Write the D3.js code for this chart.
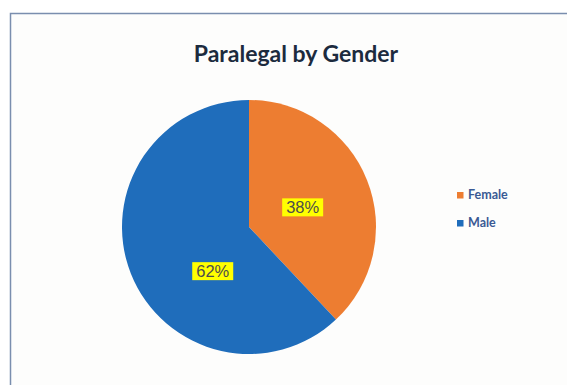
<!DOCTYPE html>
<html><head><meta charset="utf-8">
<script src="https://cdn.jsdelivr.net/npm/d3@7"></script>
<style>html,body{margin:0;padding:0;background:#fff;}svg{display:block;}</style>
</head><body>
<script>
const categories = ["Female", "Male"];
const values = [38, 62];
const labels = ["38%", "62%"];
const colors = ["#ED7D31", "#1F6DBB"];
const title = "Paralegal by Gender";

const W = 567, H = 385;
const svg = d3.select("body").append("svg").attr("width", W).attr("height", H);
svg.append("rect").attr("x", 0).attr("y", 0).attr("width", W).attr("height", H).attr("fill", "#ffffff");
svg.append("rect").attr("x", 10.5).attr("y", 13.5).attr("width", W + 10).attr("height", H + 10)
  .attr("fill", "#fdfdfc").attr("stroke", "#7a8eae").attr("stroke-width", 1.5);

svg.append("text").attr("x", 296).attr("y", 62).attr("text-anchor", "middle")
  .attr("font-family", "Lato, 'Open Sans', sans-serif").attr("font-weight", "bold")
  .attr("font-size", 23).attr("fill", "#1c2b3e").text(title);

const cx = 249, cy = 227, r = 127;
const pie = d3.pie().sort(null).value(d => d)(values);
const arc = d3.arc().innerRadius(0).outerRadius(r);
const g = svg.append("g").attr("transform", `translate(${cx},${cy})`);
g.selectAll("path").data(pie).join("path").attr("d", arc).attr("fill", (d, i) => colors[i]);

// best-fit style label placement: distance from centre and angular nudge (degrees)
const labelDist = 0.45 * r;
const angleNudge = [1.5, -29];
pie.forEach((d, i) => {
  const a = (d.startAngle + d.endAngle) / 2 + angleNudge[i] * Math.PI / 180;
  const x = labelDist * Math.sin(a), y = -labelDist * Math.cos(a);
  const lg = g.append("g").attr("transform", `translate(${x},${y})`);
  lg.append("rect").attr("x", -20.5).attr("y", -9).attr("width", 41).attr("height", 18).attr("fill", "#ffff00");
  lg.append("text").attr("text-anchor", "middle").attr("dy", "0.36em")
    .attr("font-family", "'Liberation Sans Narrow', 'Liberation Sans', Arial, sans-serif").attr("font-size", 17)
    .attr("textLength", 33).attr("lengthAdjust", "spacingAndGlyphs")
    .attr("fill", "#4d4d4d").text(labels[i]);
});

const leg = svg.append("g");
categories.forEach((c, i) => {
  const y = 195 + i * 28;
  leg.append("rect").attr("x", 457).attr("y", y - 3).attr("width", 6.5).attr("height", 6.5).attr("fill", colors[i]);
  leg.append("text").attr("x", 468).attr("y", y).attr("dy", "0.35em")
    .attr("font-family", "Lato, 'Open Sans', sans-serif").attr("font-weight", "bold").attr("font-size", 12.5)
    .attr("fill", "#3a5a94").text(c);
});
</script>
</body></html>
